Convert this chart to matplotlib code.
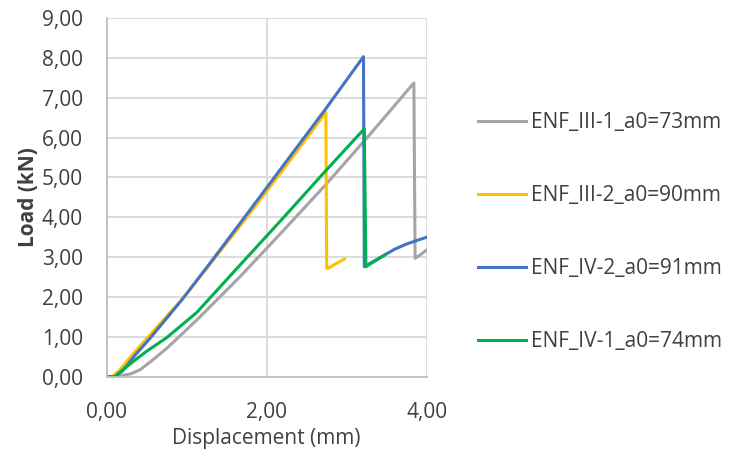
import numpy as np
import matplotlib.pyplot as plt

# ENF load-displacement curves
x_iii1 = [0, 0.05, 0.15, 0.3, 0.42, 0.55, 0.75, 1.125, 1.667, 2.2, 2.73, 3.3, 3.84, 3.855, 3.9, 4.0]
y_iii1 = [0, 0.0, 0.02, 0.07, 0.18, 0.38, 0.71, 1.42, 2.51, 3.65, 4.80, 6.10, 7.37, 2.97, 3.03, 3.18]

x_iii2 = [0, 0.07, 0.16, 0.32, 0.51, 0.95, 1.667, 2.2, 2.74, 2.75, 2.77, 2.86, 2.97]
y_iii2 = [0, 0.0, 0.16, 0.55, 0.98, 1.96, 3.78, 5.18, 6.63, 2.72, 2.72, 2.83, 2.95]

x_iv2 = [0, 0.1, 0.2, 0.35, 0.54, 0.94, 1.33, 1.667, 2.2, 2.73, 3.21, 3.22, 3.35, 3.48, 3.6, 3.75, 3.88, 4.0]
y_iv2 = [0, 0.0, 0.15, 0.53, 0.96, 1.93, 2.95, 3.85, 5.28, 6.70, 8.03, 2.76, 2.91, 3.06, 3.2, 3.33, 3.42, 3.5]

x_iv1 = [0, 0.1, 0.2, 0.33, 0.5, 0.75, 1.125, 1.67, 2.2, 2.73, 3.22, 3.24, 3.35, 3.48]
y_iv1 = [0, 0.0, 0.17, 0.38, 0.64, 0.98, 1.61, 2.81, 3.97, 5.15, 6.22, 2.76, 2.90, 3.06]

labels = ["ENF_III-1_a0=73mm", "ENF_III-2_a0=90mm", "ENF_IV-2_a0=91mm", "ENF_IV-1_a0=74mm"]
colors = ["#A5A5A5", "#FFC000", "#4472C4", "#00B050"]

plt.rcParams['font.family'] = ['Open Sans', 'DejaVu Sans']

fig = plt.figure(figsize=(7.29, 4.58), dpi=100)
ax = fig.add_axes([0.1464, 0.1775, 0.4389, 0.7832])

series = [(x_iii1, y_iii1), (x_iii2, y_iii2), (x_iv2, y_iv2), (x_iv1, y_iv1)]
for (xs, ys), lab, c in zip(series, labels, colors):
    ax.plot(xs, ys, color=c, lw=2.2, label=lab, solid_joinstyle='round')

ax.set_xlim(0, 4)
ax.set_ylim(0, 9)
ax.set_xticks([0, 2, 4])
ax.set_yticks(np.arange(0, 10, 1))
ax.set_xticklabels(["0,00", "2,00", "4,00"])
ax.set_yticklabels([f"{v},00" for v in range(10)])
ax.grid(True, color="#D9D9D9", lw=1.3)
ax.set_axisbelow(True)
for s in ["top", "right"]:
    ax.spines[s].set_visible(False)
for s in ["left", "bottom"]:
    ax.spines[s].set_color("#BFBFBF")
    ax.spines[s].set_linewidth(1.3)
ax.tick_params(length=0, labelsize=15, labelcolor="#404040")
ax.tick_params(axis="y", pad=17)
ax.tick_params(axis="x", pad=18)

ax.set_xlabel("Displacement (mm)", fontsize=15, color="#404040", labelpad=4)
ax.set_ylabel("Load (kN)", fontsize=15, color="#404040", fontweight="bold", labelpad=2)

fig.legend(loc="upper left", bbox_to_anchor=(0.630, 0.796), frameon=False,
           fontsize=15, handlelength=2.3, handletextpad=0.25, labelspacing=2.5,
           labelcolor="#404040")

fig.savefig("out.png", dpi=100)
